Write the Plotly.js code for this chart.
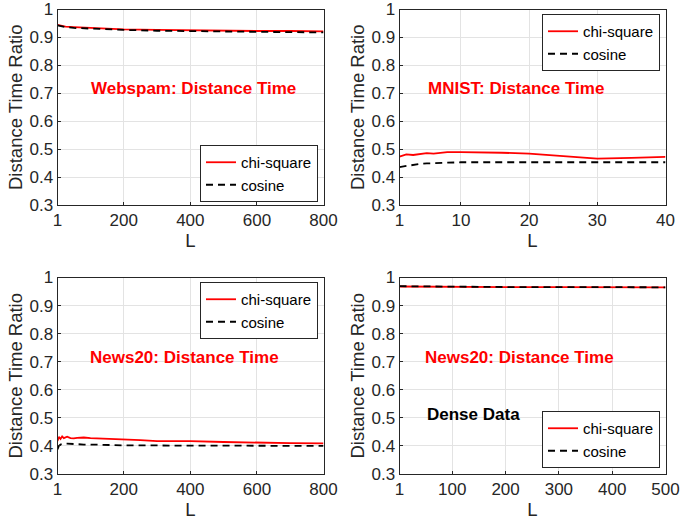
<!DOCTYPE html>
<html><head><meta charset="utf-8">
<script src="https://cdn.plot.ly/plotly-3.0.1.min.js"></script>
<style>html,body{margin:0;padding:0;background:#fff}#c{width:680px;height:523px}</style>
</head><body><div id="c"></div>
<script>
// Webspam
const webL = [1, 10, 25, 50, 100, 150, 200, 300, 400, 500, 600, 700, 800];
const webChi = [0.945, 0.942, 0.939, 0.937, 0.934, 0.931, 0.929, 0.927, 0.925, 0.924, 0.923, 0.923, 0.922];
const webCos = [0.943, 0.940, 0.937, 0.934, 0.931, 0.929, 0.927, 0.924, 0.922, 0.921, 0.920, 0.919, 0.918];
// MNIST
const mnL = [1, 2, 3, 4, 5, 6, 8, 10, 12, 16, 20, 25, 30, 35, 40];
const mnChi = [0.473, 0.481, 0.479, 0.483, 0.486, 0.484, 0.489, 0.489, 0.489, 0.487, 0.484, 0.476, 0.466, 0.469, 0.472];
const mnCos = [0.436, 0.440, 0.444, 0.447, 0.449, 0.450, 0.452, 0.453, 0.453, 0.453, 0.453, 0.452, 0.451, 0.452, 0.453];
// News20
const nwL = [1, 5, 10, 15, 20, 30, 40, 50, 60, 80, 100, 150, 200, 250, 300, 400, 500, 600, 700, 800];
const nwChi = [0.418, 0.432, 0.425, 0.434, 0.428, 0.433, 0.428, 0.427, 0.429, 0.430, 0.428, 0.426, 0.424, 0.421, 0.417, 0.417, 0.414, 0.411, 0.410, 0.409];
const nwCos = [0.388, 0.400, 0.405, 0.407, 0.408, 0.408, 0.407, 0.406, 0.406, 0.405, 0.405, 0.403, 0.402, 0.402, 0.401, 0.401, 0.401, 0.401, 0.401, 0.400];
// News20 dense
const dnL = [1, 50, 100, 200, 300, 400, 500];
const dnChi = [0.968, 0.967, 0.967, 0.966, 0.966, 0.965, 0.965];
const dnCos = [0.969, 0.968, 0.967, 0.966, 0.966, 0.965, 0.965];

const seriesNames = ['chi-square', 'cosine'];
const panelTitles = ['Webspam: Distance Time', 'MNIST: Distance Time', 'News20: Distance Time', 'News20: Distance Time'];
const yTicks = [0.3, 0.4, 0.5, 0.6, 0.7, 0.8, 0.9, 1];
const yTickText = ['0.3', '0.4', '0.5', '0.6', '0.7', '0.8', '0.9', '1'];
const xTicksWeb = [1, 200, 400, 600, 800];
const xTicksMn = [1, 10, 20, 30, 40];
const xTicksDn = [1, 100, 200, 300, 400, 500];

const FONT = 'Liberation Sans, Arial, Helvetica, sans-serif';
const panels = [
  {L: webL, chi: webChi, cos: webCos, ticks: xTicksWeb, range: [1, 800]},
  {L: mnL, chi: mnChi, cos: mnCos, ticks: xTicksMn, range: [1, 40]},
  {L: nwL, chi: nwChi, cos: nwCos, ticks: xTicksWeb, range: [1, 800]},
  {L: dnL, chi: dnChi, cos: dnCos, ticks: xTicksDn, range: [1, 500]}
];
const W = 680, H = 523;
const xDom = [[57.5 / W, 323.5 / W], [399.5 / W, 665.5 / W]];
const yDom = [[1 - 205 / H, 1 - 9.5 / H], [1 - 474 / H, 1 - 277.5 / H]];
// legend boxes (top-right corners in px)
const legPos = [[318, 202, 'bottom'], [660, 14, 'top'], [318, 282, 'top'], [660, 468, 'bottom']];

const traces = [];
const layout = {
  width: W, height: H, margin: {l: 0, r: 0, t: 0, b: 0},
  paper_bgcolor: '#fff', plot_bgcolor: '#fff', showlegend: true,
  font: {family: FONT, color: '#262626'},
  annotations: [], shapes: []
};
panels.forEach((p, i) => {
  const n = i + 1;
  const xa = n === 1 ? 'x' : 'x' + n, ya = n === 1 ? 'y' : 'y' + n;
  const lg = n === 1 ? 'legend' : 'legend' + n;
  traces.push({x: p.L, y: p.chi, xaxis: xa, yaxis: ya, legend: lg, type: 'scatter', mode: 'lines',
    name: seriesNames[0], line: {color: '#ff0000', width: 1.8}});
  traces.push({x: p.L, y: p.cos, xaxis: xa, yaxis: ya, legend: lg, type: 'scatter', mode: 'lines',
    name: seriesNames[1], line: {color: '#000000', width: 1.8, dash: '7px,5px'}});
  const col = i % 2, row = Math.floor(i / 2);
  const xk = n === 1 ? 'xaxis' : 'xaxis' + n, yk = n === 1 ? 'yaxis' : 'yaxis' + n;
  layout[xk] = {domain: xDom[col], anchor: ya, range: p.range, tickvals: p.ticks,
    showgrid: true, gridcolor: '#e3e3e3', gridwidth: 1, zeroline: false,
    showline: true, mirror: true, linecolor: '#262626', linewidth: 1,
    ticks: 'inside', ticklen: 3, tickcolor: '#262626',
    tickfont: {size: 17, family: FONT, color: '#262626'},
    title: {text: 'L', font: {size: 18.5, family: FONT, color: '#262626'}, standoff: 4},
    automargin: false, fixedrange: true};
  layout[yk] = {domain: yDom[row], anchor: xa, range: [0.3, 1], tickvals: yTicks, ticktext: yTickText,
    showgrid: true, gridcolor: '#e3e3e3', gridwidth: 1, zeroline: false,
    showline: true, mirror: true, linecolor: '#262626', linewidth: 1,
    ticks: 'inside', ticklen: 3, tickcolor: '#262626',
    tickfont: {size: 17, family: FONT, color: '#262626'},
    title: {text: 'Distance Time Ratio', font: {size: 18.5, family: FONT, color: '#262626'}, standoff: 1},
    automargin: false, fixedrange: true};
  const lp = legPos[i];
  layout[lg] = {x: lp[0] / W, y: 1 - lp[1] / H, xanchor: 'right', yanchor: lp[2],
    bgcolor: '#fff', bordercolor: '#262626', borderwidth: 1,
    font: {size: 15, family: FONT, color: '#000'}, itemwidth: 30, tracegroupgap: 0,
    itemclick: false, itemdoubleclick: false};
  const cx = [193, 515.5, 184.5, 519.5][i];
  const cy = [88, 88, 357, 357][i];
  layout.annotations.push({xref: 'paper', yref: 'paper', x: cx / W, y: 1 - cy / H, text: '<b>' + panelTitles[i] + '</b>',
    showarrow: false, font: {size: 17, family: FONT, color: '#ff0000'}, xanchor: 'center', yanchor: 'middle'});
});
layout.annotations.push({xref: 'paper', yref: 'paper', x: 425 / W, y: 1 - 414 / H, text: '<b>Dense Data</b>',
  showarrow: false, font: {size: 17, family: FONT, color: '#000'}, xanchor: 'left', yanchor: 'middle'});
Plotly.newPlot('c', traces, layout, {staticPlot: true, displayModeBar: false});
</script></body></html>
